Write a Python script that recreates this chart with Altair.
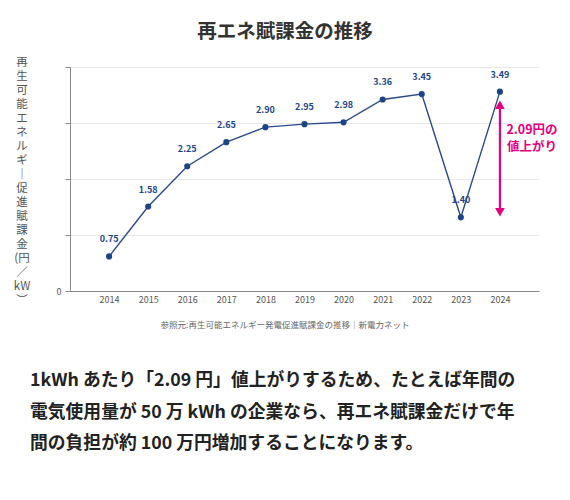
import pandas as pd
import altair as alt

# chart data
years = [2014, 2015, 2016, 2017, 2018, 2019, 2020, 2021, 2022, 2023, 2024]
levy = [0.75, 1.58, 2.25, 2.65, 2.90, 2.95, 2.98, 3.36, 3.45, 1.40, 3.49]

title_text = "再エネ賦課金の推移"
y_title_lines = ["再", "生", "可", "能", "エ", "ネ", "ル", "ギ", "｜", "促", "進",
                 "賦", "課", "金", "(円", "／", "kW", "︶"]
source_text = "参照元:再生可能エネルギー発電促進賦課金の推移｜新電力ネット"
body_lines = [
    "1kWh あたり「2.09 円」値上がりするため、たとえば年間の",
    "電気使用量が 50 万 kWh の企業なら、再エネ賦課金だけで年",
    "間の負担が約 100 万円増加することになります。",
]

FONT = "Noto Sans CJK JP"
BLUE = "#1c4588"
PINK = "#e4007f"

#y range as drawn in the original picture
y_lo, y_hi = 0.175, 3.90
grid_vals = [y_lo + i * (y_hi - y_lo) / 4 for i in range(5)]

df = pd.DataFrame({"year": [str(y) for y in years], "levy": levy})
jump = pd.DataFrame({"year": [str(years[-1])], "low": [levy[-2]], "high": [levy[-1]]})
jump_label = f"{levy[-1] - levy[-2]:.2f}円の"
one = alt.Data(values=[{"k": 1}])

x_enc = alt.X("year:O", title=None, scale=alt.Scale(type="point", padding=1),
              axis=alt.Axis(labelAngle=0, ticks=False, grid=False, domainColor="#8a8a8a",
                            labelFontSize=9, labelColor="#555", labelPadding=4, labelFont=FONT))
y_scale = alt.Scale(domain=[y_lo, y_hi], nice=False, zero=False)
y_enc = alt.Y("levy:Q", title=None, scale=y_scale,
              axis=alt.Axis(values=grid_vals, labelExpr="datum.value < 0.5 ? '0' : ''",
                            gridColor="#e8e8e8", domainColor="#8a8a8a", tickColor="#8a8a8a",
                            tickSize=5, labelFontSize=9, labelColor="#555", labelPadding=4,
                            labelFont=FONT))

base = alt.Chart(df)
line = base.mark_line(color="#2b4a8a", strokeWidth=1.4).encode(x=x_enc, y=y_enc)
dots = base.mark_point(filled=True, size=38, color=BLUE, opacity=1).encode(x="year:O", y="levy:Q")
labels = base.mark_text(dy=-17, fontSize=9, fontWeight="bold", color=BLUE, font=FONT).encode(
    x="year:O", y="levy:Q", text=alt.Text("levy:Q", format=".2f"))

# magenta double arrow for the 2023 -> 2024 jump
arrow_shaft = alt.Chart(jump).mark_rule(color=PINK, strokeWidth=2.2, yOffset=14, y2Offset=-8).encode(
    x="year:O", y=alt.Y("high:Q", scale=y_scale), y2="low:Q")
arrow_top = alt.Chart(jump).mark_point(shape="triangle-up", filled=True, size=95, color=PINK,
                                       opacity=1, yOffset=13).encode(x="year:O", y="high:Q")
arrow_bot = alt.Chart(jump).mark_point(shape="triangle-down", filled=True, size=95, color=PINK,
                                       opacity=1, yOffset=-5).encode(x="year:O", y="low:Q")
arrow_text = alt.Chart(one).mark_text(fontSize=12.5, fontWeight="bold", color=PINK, font=FONT,
                                      lineHeight=17, baseline="top").encode(
    x=alt.value(462), y=alt.value(57), text=alt.value([jump_label, "値上がり"]))

title = alt.Chart(one).mark_text(fontSize=19.5, fontWeight="bold", color="#333", font=FONT).encode(
    x=alt.value(215), y=alt.value(-35), text=alt.value(title_text))
y_title = alt.Chart(one).mark_text(fontSize=11.5, color="#555", font=FONT, lineHeight=14,
                                   baseline="top").encode(
    x=alt.value(-48), y=alt.value(-10), text=alt.value(y_title_lines))
source = alt.Chart(one).mark_text(fontSize=8.5, color="#666", font=FONT).encode(
    x=alt.value(215), y=alt.value(258), text=alt.value(source_text))
body = alt.Chart(one).mark_text(fontSize=17.8, fontWeight="bold", color="#222", font=FONT,
                                align="left", lineHeight=31.5).encode(
    x=alt.value(-40), y=alt.value(314), text=alt.value(body_lines))

chart = alt.layer(
    line, dots, labels, arrow_shaft, arrow_top, arrow_bot, arrow_text,
    title, y_title, source, body
).properties(
    width=469, height=224, autosize="none",
    padding={"left": 62, "top": 59, "right": 23, "bottom": 201},
).configure_view(stroke=None)

chart.save("out.html", embed_options={"renderer": "svg", "actions": False})
